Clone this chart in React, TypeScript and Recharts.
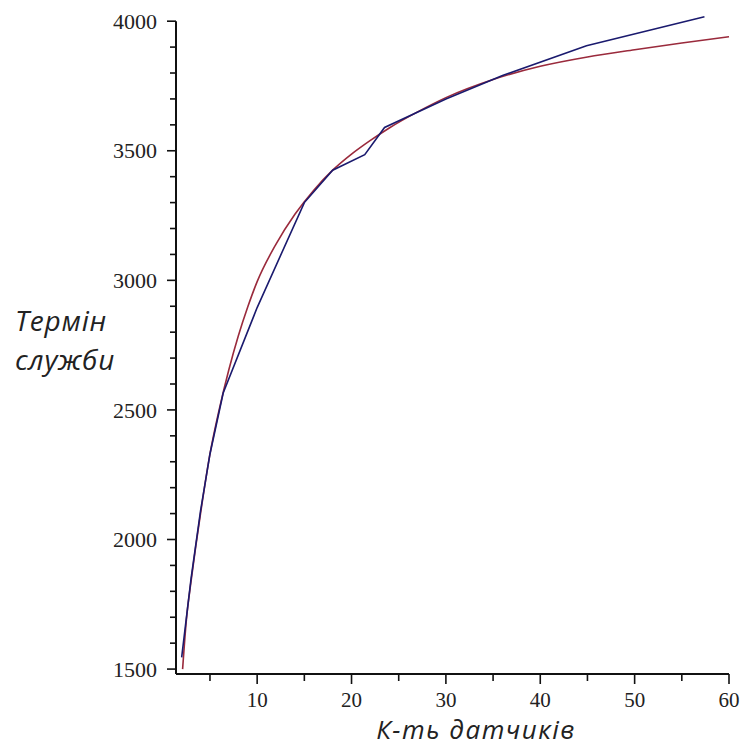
import { ComposedChart, Line, XAxis, YAxis, ReferenceLine } from "recharts";

// blue — measured points (piecewise linear)
const blueX = [2, 3, 4, 5, 6.4, 10, 15, 18, 21.4, 23.5, 30, 36, 44.9, 57.4];
const blueY = [1545, 1850, 2110, 2330, 2565, 2895, 3300, 3425, 3485, 3590, 3700, 3790, 3905, 4017];

// red — fitted curve
const redX = [2.1, 2.5, 3, 3.5, 4, 5, 6, 7, 8, 9, 10, 12, 14, 16, 18, 20, 22, 24, 27, 30, 35, 40, 45, 50, 55, 60];
const redY = [1500, 1690, 1840, 1975, 2100, 2330, 2505, 2655, 2785, 2897, 2995, 3140, 3255, 3348, 3425, 3487, 3540, 3588, 3650, 3705, 3775, 3826, 3862, 3890, 3916, 3940];

const xTicks = [5, 10, 15, 20, 25, 30, 35, 40, 45, 50, 55, 60];
const yTicks = Array.from({ length: 26 }, (_, i) => 1500 + i * 100);

const X_MIN = 1.4;
const Y_MIN = 1481;

const BLUE = "#1a1a6e";
const RED = "#9a2a3c";
const INK = "#111";
const TICK_FONT = "'Liberation Serif', 'Times New Roman', serif";
const TITLE_FONT = "'Open Sans', 'Noto Sans', sans-serif";

const blueData = blueX.map((x, i) => ({ x, y: blueY[i] }));
const redData = redX.map((x, i) => ({ x, y: redY[i] }));

function XTick({ x, y, payload }: any) {
  const v = payload.value;
  const major = v % 10 === 0;
  return (
    <g>
      <line x1={x} y1={y} x2={x} y2={y + (major ? 10 : 7)} stroke={INK} strokeWidth={1.6} />
      {major && (
        <text x={x} y={y + 33} textAnchor="middle" fontFamily={TICK_FONT} fontSize={21} fill="#222">
          {v}
        </text>
      )}
    </g>
  );
}

function YTick({ x, y, payload }: any) {
  const v = payload.value;
  const major = v % 500 === 0;
  return (
    <g>
      <line x1={x - (major ? 9 : 6)} y1={y} x2={x} y2={y} stroke={INK} strokeWidth={1.6} />
      {major && (
        <text x={x - 19} y={y} dy="0.35em" textAnchor="end" fontFamily={TICK_FONT} fontSize={22} fill="#222">
          {v}
        </text>
      )}
    </g>
  );
}

function YTitle() {
  return (
    <g fontFamily={TITLE_FONT} fontStyle="italic" fontSize={28} letterSpacing={0.8} fill="#222">
      <text x={15} y={331}>Термін</text>
      <text x={15} y={370}>служби</text>
    </g>
  );
}

function XTitle() {
  return (
    <text x={476} y={739} textAnchor="middle" fontFamily={TITLE_FONT} fontStyle="italic" fontSize={26}
      letterSpacing={1.5} fill="#222">
      К-ть датчиків
    </text>
  );
}

export default function App() {
  return (
    <div style={{ position: "absolute", left: 0, top: 0, background: "#fff" }}>
      <ComposedChart width={746} height={747} margin={{ top: 16, right: 17, left: 0, bottom: 0 }}>
        <XAxis
          dataKey="x"
          type="number"
          domain={[X_MIN, 60]}
          ticks={xTicks}
          interval={0}
          tick={(p: any) => <XTick {...p} />}
          tickSize={0}
          tickMargin={0}
          tickLine={false}
          axisLine={{ stroke: INK, strokeWidth: 2 }}
          height={73}
          label={{ content: () => <XTitle /> }}
        />
        <YAxis
          type="number"
          domain={[Y_MIN, 4020]}
          ticks={yTicks}
          interval={0}
          tick={(p: any) => <YTick {...p} />}
          tickSize={0}
          tickMargin={0}
          tickLine={false}
          axisLine={false}
          width={176}
          label={{ content: () => <YTitle /> }}
        />
        <ReferenceLine
          segment={[{ x: X_MIN, y: Y_MIN }, { x: X_MIN, y: 4000 }]}
          stroke={INK}
          strokeWidth={2}
        />
        <Line
          data={redData}
          dataKey="y"
          type="monotone"
          stroke={RED}
          strokeWidth={1.6}
          dot={false}
          activeDot={false}
          isAnimationActive={false}
        />
        <Line
          data={blueData}
          dataKey="y"
          type="linear"
          stroke={BLUE}
          strokeWidth={1.6}
          dot={false}
          activeDot={false}
          isAnimationActive={false}
        />
      </ComposedChart>
    </div>
  );
}
